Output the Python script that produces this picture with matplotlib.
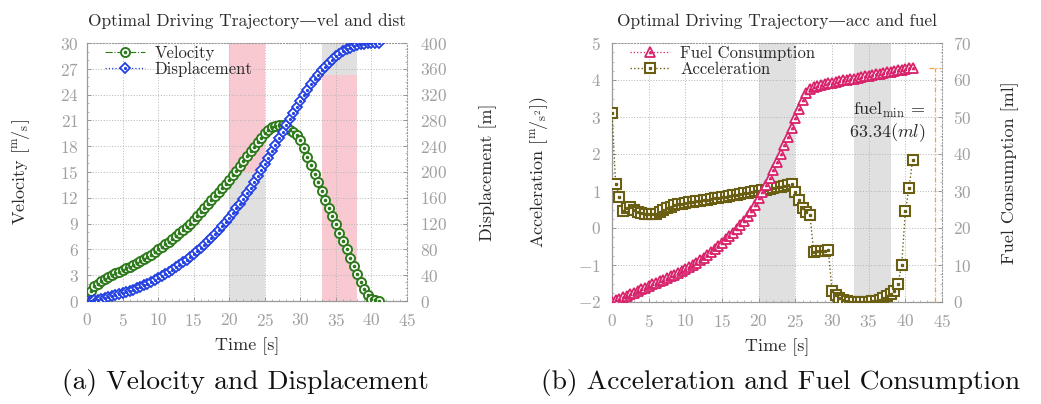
import numpy as np
import matplotlib
matplotlib.use("Agg")
import matplotlib.pyplot as plt
from matplotlib.ticker import MultipleLocator
from matplotlib.legend_handler import HandlerTuple

plt.rcParams['font.family'] = ['cmr10', 'DejaVu Serif']
plt.rcParams['mathtext.fontset'] = 'cm'
plt.rcParams['axes.formatter.use_mathtext'] = True
plt.rcParams['axes.unicode_minus'] = True

# ---------------- data ----------------
time_s = np.arange(0, 41.01, 0.5)

velocity = [0.0, 1.2, 1.7, 2.0, 2.3, 2.55, 2.8, 3.0, 3.2, 3.4,
            3.6, 3.8, 4.0, 4.2, 4.4, 4.65, 4.9, 5.15, 5.4, 5.7,
            6.0, 6.3, 6.6, 6.9, 7.2, 7.55, 7.9, 8.25, 8.6, 9.0,
            9.45, 9.9, 10.35, 10.8, 11.3, 11.75, 12.2, 12.65, 13.1, 13.6,
            14.1, 14.6, 15.1, 15.7, 16.3, 16.85, 17.4, 17.95, 18.5, 19.0,
            19.5, 19.9, 20.2, 20.4, 20.5, 20.45, 20.2, 19.9, 19.6, 19.3,
            18.7, 17.8, 16.8, 15.8, 14.8, 13.8, 12.8, 11.8, 10.85, 9.9,
            8.9, 7.9, 6.95, 6.0, 5.0, 4.05, 3.1, 2.2, 1.35, 0.65,
            0.25, 0.08, 0.0]

displacement = [0.0, 0.3, 1.0, 1.9, 3.0, 4.2, 5.6, 7.0, 8.6, 10.2,
                12.0, 13.8, 15.8, 17.8, 20.0, 22.2, 24.6, 27.1, 29.8, 32.5,
                35.4, 38.5, 41.7, 45.0, 48.5, 52.1, 55.9, 59.9, 64.0, 68.3,
                72.8, 77.5, 82.4, 87.5, 92.8, 98.3, 104.0, 110.0, 116.2, 122.6,
                129.3, 136.3, 143.5, 151.0, 158.8, 167.0, 175.5, 184.3, 193.4, 202.7,
                212.2, 222.0, 232.0, 242.1, 252.3, 262.5, 272.5, 282.4, 292.1, 301.3,
                310.0, 319.1, 327.8, 335.9, 343.6, 350.7, 357.4, 363.5, 369.2, 374.4,
                379.1, 383.3, 387.0, 390.2, 393.0, 395.2, 397.0, 398.3, 399.2, 399.7,
                399.9, 400.0, 400.0]

acceleration = [3.1, 1.18, 0.85, 0.45, 0.55, 0.58, 0.5, 0.43, 0.4, 0.39,
                0.38, 0.38, 0.39, 0.42, 0.48, 0.53, 0.58, 0.62, 0.64, 0.66,
                0.67, 0.69, 0.7, 0.72, 0.73, 0.75, 0.76, 0.78, 0.8, 0.82,
                0.84, 0.85, 0.87, 0.88, 0.9, 0.92, 0.94, 0.95, 0.97, 0.99,
                1.0, 1.02, 1.04, 1.06, 1.08, 1.1, 1.12, 1.14, 1.16, 1.19,
                0.97, 0.76, 0.53, 0.42, 0.35, -0.65, -0.63, -0.63, -0.62, -0.6,
                -1.7, -1.82, -1.9, -1.95, -1.98, -2.0, -2.0, -2.0, -2.0, -2.0,
                -1.99, -1.98, -1.96, -1.94, -1.9, -1.85, -1.78, -1.7, -1.5, -1.0,
                0.45, 1.08, 1.85]

fuel = [0.0, 0.45, 0.9, 1.3, 1.7, 2.1, 2.55, 3.0, 3.45, 3.9,
        4.4, 4.8, 5.2, 5.6, 6.05, 6.5, 6.95, 7.4, 7.85, 8.3,
        8.8, 9.4, 10.0, 10.6, 11.3, 12.0, 12.7, 13.5, 14.3, 15.1,
        16.0, 16.9, 17.8, 18.7, 19.7, 20.8, 22.0, 23.3, 24.7, 26.3,
        28.0, 29.8, 31.6, 33.5, 35.6, 37.8, 40.0, 42.3, 44.6, 47.1,
        49.7, 52.2, 54.6, 56.5, 57.6, 58.2, 58.5, 58.7, 58.9, 59.1,
        59.3, 59.5, 59.7, 59.9, 60.05, 60.25, 60.4, 60.6, 60.8, 60.95,
        61.15, 61.3, 61.5, 61.7, 61.85, 62.05, 62.2, 62.4, 62.6, 62.8,
        62.95, 63.15, 63.34]

# signal zones (time windows) and the velocity level splitting red / grey
zones = [(20, 25), (33, 38)]
zone_split_velocity = [15, 26.25]    # below: grey / red, above: red / grey
fuel_min = fuel[-1]
fuel_marker_time = 44

# ---------------- style ----------------
GREEN = '#2e7a1c'
BLUE = '#2340e0'
PINK = '#d8226a'
OLIVE = '#6a5e12'
ORANGE = '#f2a43a'
GREYBOX = '#e0e0e0'
PINKBOX = '#f9c9d2'
TICKC = '#a0a0a0'
TEXTC = '#2a2a2a'

fig = plt.figure(figsize=(10.41, 4.04), dpi=100)
ax1 = fig.add_axes([87/1041, 1-301/404, 320/1041, 258/404])
ax3 = fig.add_axes([612/1041, 1-302/404, 330/1041, 259/404])


def style_axis(ax, twin, ypad_left, ypad_right):
    ax.set_axisbelow(True)
    ax.grid(True, color='#b4b4b4', linestyle=(0, (1, 1.8)), linewidth=0.7)
    for side in ['left', 'bottom']:
        ax.spines[side].set_color('#9a9a9a')
        ax.spines[side].set_linewidth(0.9)
    for side in ['top', 'right']:
        ax.spines[side].set_color('#9a9a9a')
        ax.spines[side].set_linestyle((0, (1, 1.8)))
        ax.spines[side].set_linewidth(0.8)
    ax.tick_params(axis='both', which='major', direction='in', length=3,
                   width=0.6, color='#8a8a8a', labelcolor=TICKC, labelsize=12.5)
    ax.tick_params(axis='both', which='minor', direction='in', length=1.5,
                   width=0.5, color='#9a9a9a')
    ax.tick_params(axis='x', which='major', pad=8)
    ax.tick_params(axis='y', which='major', pad=ypad_left)
    twin.tick_params(axis='y', which='major', direction='in', length=3,
                     width=0.6, color='#8a8a8a', labelcolor=TICKC, labelsize=12.5,
                     pad=ypad_right)
    twin.tick_params(axis='y', which='minor', direction='in', length=1.5,
                     width=0.5, color='#9a9a9a')
    for s in twin.spines.values():
        s.set_visible(False)


def make_legend(ax, handles, labels):
    leg = ax.legend(handles, labels,
                    handler_map={tuple: HandlerTuple(ndivide=1, pad=0)},
                    loc='upper left', bbox_to_anchor=(0.056, 0.99), frameon=False,
                    fontsize=12, handlelength=2.4, handletextpad=0.6,
                    labelspacing=0.05, borderaxespad=0.0, borderpad=0.0)
    for t in leg.get_texts():
        t.set_color(TEXTC)
    return leg


# ---------------- (a) velocity / displacement ----------------
ax2 = ax1.twinx()
ax1.set_xlim(0, 45)
ax1.set_ylim(0, 30)
ax2.set_ylim(0, 400)
ax1.xaxis.set_major_locator(MultipleLocator(5))
ax1.xaxis.set_minor_locator(MultipleLocator(1))
ax1.yaxis.set_major_locator(MultipleLocator(3))
ax1.yaxis.set_minor_locator(MultipleLocator(1))
ax2.yaxis.set_major_locator(MultipleLocator(40))
ax2.yaxis.set_minor_locator(MultipleLocator(10))
style_axis(ax1, ax2, 6, 9)

(z1a, z1b), (z2a, z2b) = zones
ax1.axvspan(z1a, z1b, ymin=0, ymax=zone_split_velocity[0]/30, color=GREYBOX, lw=0, zorder=0.2)
ax1.axvspan(z1a, z1b, ymin=zone_split_velocity[0]/30, ymax=1, color=PINKBOX, lw=0, zorder=0.2)
ax1.axvspan(z2a, z2b, ymin=0, ymax=zone_split_velocity[1]/30, color=PINKBOX, lw=0, zorder=0.2)
ax1.axvspan(z2a, z2b, ymin=zone_split_velocity[1]/30, ymax=1, color=GREYBOX, lw=0, zorder=0.2)

lv, = ax1.plot(time_s, velocity, linestyle='-.', color=GREEN, lw=0.8,
               marker='o', ms=6.5, mfc='white', mec=GREEN, mew=1.4, zorder=3)
dv, = ax1.plot(time_s, velocity, linestyle='none', marker='o', ms=1.6,
               mfc=GREEN, mec=GREEN, zorder=3.1)
ld, = ax2.plot(time_s, displacement, linestyle=':', color=BLUE, lw=0.9,
               marker='D', ms=4.8, mfc='white', mec=BLUE, mew=1.3, zorder=3)
dd, = ax2.plot(time_s, displacement, linestyle='none', marker='o', ms=1.3,
               mfc=BLUE, mec=BLUE, zorder=3.1)

ax1.set_xlabel('Time [s]', fontsize=13, color=TEXTC)
ax1.xaxis.set_label_coords(0.5, -0.14)
ax1.set_ylabel(r'Velocity [$^{\mathrm{m}}\!/_{\mathrm{s}}$]', fontsize=13, color=TEXTC)
ax1.yaxis.set_label_coords(-0.172, 0.5)
ax2.set_ylabel('Displacement [m]', fontsize=13, color=TEXTC, rotation=90)
ax2.yaxis.set_label_coords(1.225, 0.5)

ax1.set_title('Optimal Driving Trajectory—vel and dist', fontsize=12.5,
              color=TEXTC, pad=12)
make_legend(ax1, [(lv, dv), (ld, dd)], ['Velocity', 'Displacement'])

# ---------------- (b) acceleration / fuel ----------------
ax4 = ax3.twinx()
ax3.set_xlim(0, 45)
ax3.set_ylim(-2, 5)
ax4.set_ylim(0, 70)
ax3.xaxis.set_major_locator(MultipleLocator(5))
ax3.xaxis.set_minor_locator(MultipleLocator(1))
ax3.yaxis.set_major_locator(MultipleLocator(1))
ax3.yaxis.set_minor_locator(MultipleLocator(0.25))
ax4.yaxis.set_major_locator(MultipleLocator(10))
ax4.yaxis.set_minor_locator(MultipleLocator(2.5))
style_axis(ax3, ax4, 8, 8)

for a, b in zones:
    ax3.axvspan(a, b, color=GREYBOX, lw=0, zorder=0.2)

la, = ax3.plot(time_s, acceleration, linestyle=':', color=OLIVE, lw=1.0,
               marker='s', ms=6.6, mfc='white', mec=OLIVE, mew=1.5, zorder=3)
da, = ax3.plot(time_s, acceleration, linestyle='none', marker='s', ms=1.4,
               mfc=OLIVE, mec=OLIVE, zorder=3.1)
lf, = ax4.plot(time_s, fuel, linestyle=':', color=PINK, lw=0.9,
               marker='^', ms=6.6, mfc='white', mec=PINK, mew=1.3, zorder=3)
dfu, = ax4.plot(time_s, fuel, linestyle='none', marker='^', ms=1.6,
                mfc=PINK, mec=PINK, zorder=3.1)

# fuel_min bracket
ax4.vlines(fuel_marker_time, 0, fuel_min, colors=ORANGE, linestyles=(0, (4, 1.5, 1, 1.5)), lw=0.9)
ax4.hlines([0, fuel_min], fuel_marker_time - 0.8, fuel_marker_time + 0.8,
           colors=ORANGE, linestyles=(0, (4, 1.5, 1, 1.5)), lw=0.9)
ax4.text(42.7, 51.9, r'fuel$_{\mathrm{min}}$ =', ha='right', va='center',
         fontsize=13, color=TEXTC)
ax4.text(42.7, 45.8, r'63.34$(ml)$', ha='right', va='center',
         fontsize=13, color=TEXTC)

ax3.set_xlabel('Time [s]', fontsize=13, color=TEXTC)
ax3.xaxis.set_label_coords(0.5, -0.14)
ax3.set_ylabel(r'Acceleration [$^{\mathrm{m}}\!/_{\mathrm{s}^2}$])', fontsize=13, color=TEXTC)
ax3.yaxis.set_label_coords(-0.189, 0.5)
ax4.set_ylabel('Fuel Consumption [ml]', fontsize=13, color=TEXTC, rotation=90)
ax4.yaxis.set_label_coords(1.179, 0.5)

ax3.set_title('Optimal Driving Trajectory—acc and fuel', fontsize=12.5,
              color=TEXTC, pad=12)
make_legend(ax3, [(lf, dfu), (la, da)], ['Fuel Consumption', 'Acceleration'])

# sub captions
fig.text(245/1041, 1 - 383/404, '(a) Velocity and Displacement', ha='center',
         va='center', fontsize=19.8, color='#111111')
fig.text(781/1041, 1 - 383/404, '(b) Acceleration and Fuel Consumption', ha='center',
         va='center', fontsize=19.8, color='#111111')

fig.savefig('out.png', dpi=100)
